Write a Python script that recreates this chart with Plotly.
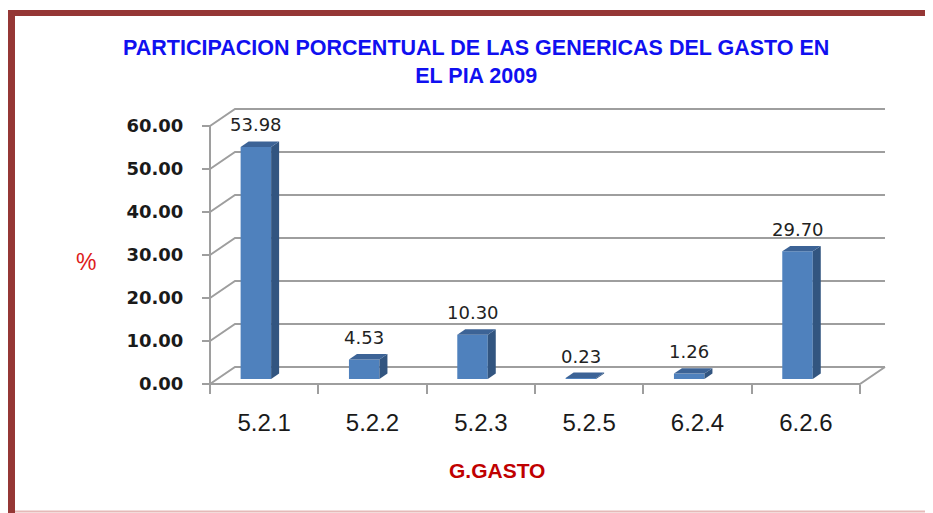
import plotly.graph_objects as go

# ---------------- data ----------------
categories = ["5.2.1", "5.2.2", "5.2.3", "5.2.5", "6.2.4", "6.2.6"]
values = [53.98, 4.53, 10.30, 0.23, 1.26, 29.70]
y_ticks = [0, 10, 20, 30, 40, 50, 60]
y_tick_labels = [f"{v:.2f}" for v in y_ticks]
title_text = "PARTICIPACION PORCENTUAL DE LAS GENERICAS DEL GASTO EN<br>EL PIA 2009"
x_title = "G.GASTO"
y_title = "%"

# ---------------- geometry ----------------
# page body has an 8px margin, so screen pixel = figure pixel + 8
SHIFT = 8
W, H = 933, 513
# plot area in screen pixels: x 200..895, y 100..400
ML = 200 - SHIFT
MT = 100 - SHIFT
MR = W - (895 - SHIFT)
MB = H - (400 - SHIFT)
PW = W - ML - MR
PH = H - MT - MB
PX_X = 108.33          # pixels per category
PX_Y = 4.3             # pixels per value unit
X0_PX = 210            # screen pixel of the front-left corner (x=-0.5)
Y0_PX = 384            # screen pixel of value 0 on front axis

x_range = [-0.5 - (X0_PX - 200) / PX_X, -0.5 + (895 - X0_PX) / PX_X]
y_range = [-(400 - Y0_PX) / PX_Y, (Y0_PX - 100) / PX_Y]

def ux(px):
    return px / PX_X

def uy(px):
    return px / PX_Y

def paper_x(px):
    return (px - SHIFT - ML) / PW

def paper_y(py):
    return (MT + PH - (py - SHIFT)) / PH

DX, DY = ux(25), uy(17)          # depth of the floor
BDX, BDY = ux(8), uy(5.4)        # depth of each bar
BASE = uy(5)                     # bar base above front floor line
BW = ux(30.5)                    # bar width
OFF = -ux(8.3) - BW / 2          # bar left edge offset from category centre
n = len(categories)
x_left, x_right = -0.5, n - 0.5

GRID = "#9E9E9E"
FRONT = "#4F81BD"
SIDE = "#325580"
TOP = "#3C6396"

shapes = []
# back wall gridlines with their left-wall diagonals
for v in y_ticks:
    shapes.append(dict(type="path", xref="x", yref="y", layer="below",
                       path=f"M {x_left},{v} L {x_left + DX},{v + DY} L {x_right + DX},{v + DY}",
                       line=dict(color=GRID, width=2)))
# floor front edge and right edge
shapes.append(dict(type="path", xref="x", yref="y", layer="below",
                   path=f"M {x_left},0 L {x_right},0 L {x_right + DX},{DY}",
                   line=dict(color=GRID, width=2)))
# front vertical axis line
shapes.append(dict(type="line", xref="x", yref="y", layer="below",
                   x0=x_left, x1=x_left, y0=0, y1=max(y_ticks),
                   line=dict(color=GRID, width=2)))

# 3D faces of the bars
annotations = []
for i, v in enumerate(values):
    xl = i + OFF
    xr = xl + BW
    yb = BASE
    yt = BASE + v
    shapes.append(dict(type="path", xref="x", yref="y", layer="above",
                       path=f"M {xr},{yb} L {xr + BDX},{yb + BDY} L {xr + BDX},{yt + BDY} L {xr},{yt} Z",
                       fillcolor=SIDE, line=dict(width=0)))
    shapes.append(dict(type="path", xref="x", yref="y", layer="above",
                       path=f"M {xl},{yt} L {xr},{yt} L {xr + BDX},{yt + BDY} L {xl + BDX},{yt + BDY} Z",
                       fillcolor=TOP, line=dict(width=0)))
    annotations.append(dict(x=xl + BW / 2, y=yt, xref="x", yref="y", yshift=22,
                            text=f"{v:.2f}", showarrow=False, xanchor="center", yanchor="middle",
                            font=dict(family="DejaVu Sans", size=18, color="#222222")))

# frame
RED = "#953735"
shapes.append(dict(type="rect", xref="paper", yref="paper",
                   x0=paper_x(8), x1=paper_x(15), y0=paper_y(10), y1=paper_y(H + 20),
                   fillcolor=RED, line=dict(width=0), layer="above"))
shapes.append(dict(type="rect", xref="paper", yref="paper",
                   x0=paper_x(8), x1=paper_x(W + 20), y0=paper_y(10), y1=paper_y(16),
                   fillcolor=RED, line=dict(width=0), layer="above"))
shapes.append(dict(type="rect", xref="paper", yref="paper",
                   x0=paper_x(15), x1=paper_x(W + 20), y0=paper_y(510.5), y1=paper_y(512.5),
                   fillcolor="#E6B9B8", line=dict(width=0), layer="above"))

# texts
annotations.append(dict(xref="paper", yref="paper", x=paper_x(476), y=paper_y(62),
                        text=title_text, showarrow=False, xanchor="center", yanchor="middle",
                        font=dict(family="Liberation Sans", size=21.5, color="#1010F0", weight="bold")))
annotations.append(dict(xref="paper", yref="paper", x=paper_x(86), y=paper_y(262),
                        text=y_title, showarrow=False, xanchor="center", yanchor="middle",
                        font=dict(family="Liberation Sans", size=23, color="#DD1C1C")))
annotations.append(dict(xref="paper", yref="paper", x=paper_x(497), y=paper_y(470),
                        text=x_title, showarrow=False, xanchor="center", yanchor="middle",
                        font=dict(family="Liberation Sans", size=21, color="#C00000", weight="bold")))

fig = go.Figure()
fig.add_trace(go.Bar(x=list(range(n)), y=values, base=[BASE] * n, width=BW, offset=OFF,
                     marker=dict(color=FRONT, line=dict(width=0)), hoverinfo="skip",
                     showlegend=False))

fig.update_layout(
    width=W, height=H,
    margin=dict(l=ML, r=MR, t=MT, b=MB, autoexpand=False),
    paper_bgcolor="white", plot_bgcolor="white",
    showlegend=False,
    shapes=shapes,
    annotations=annotations,
    xaxis=dict(range=x_range, anchor="free", position=paper_y(Y0_PX),
               tickmode="array", tickvals=list(range(n)), ticktext=categories,
               ticks="", showgrid=False, zeroline=False, showline=False,
               ticklabelstandoff=22,
               tickfont=dict(family="Liberation Sans", size=24, color="#1A1A1A"),
               minor=dict(tickmode="array", tickvals=[k - 0.5 for k in range(n + 1)],
                          ticks="outside", ticklen=9, tickwidth=2, tickcolor=GRID, showgrid=False),
               fixedrange=True),
    yaxis=dict(range=y_range, anchor="free", position=paper_x(X0_PX),
               tickmode="array", tickvals=y_ticks, ticktext=y_tick_labels,
               ticks="outside", ticklen=8, tickwidth=2, tickcolor=GRID,
               showgrid=False, zeroline=False, showline=False,
               ticklabelstandoff=15,
               tickfont=dict(family="DejaVu Sans", size=18, color="#1A1A1A", weight="bold"),
               fixedrange=True),
)

fig.write_html("out.html")
